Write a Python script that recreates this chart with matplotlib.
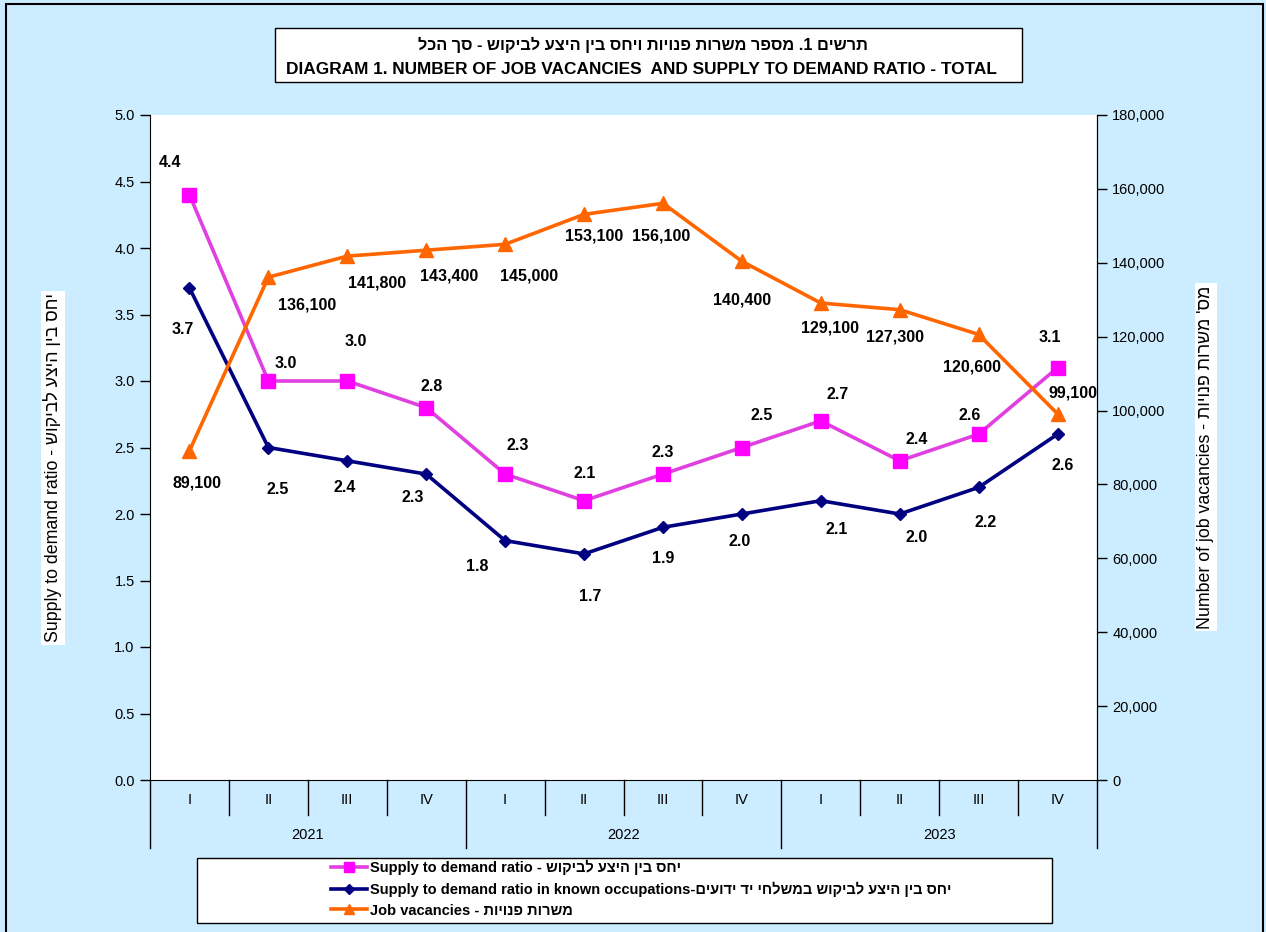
import matplotlib
matplotlib.use("Agg")
import matplotlib.pyplot as plt
from matplotlib.patches import Rectangle
from matplotlib.lines import Line2D
from matplotlib.ticker import FuncFormatter, MultipleLocator

plt.rcParams['font.family'] = ['Liberation Sans', 'DejaVu Sans']

# data
quarters = ['I', 'II', 'III', 'IV'] * 3
years = ['2021', '2022', '2023']
ratio = [4.4, 3.0, 3.0, 2.8, 2.3, 2.1, 2.3, 2.5, 2.7, 2.4, 2.6, 3.1]
ratio_known = [3.7, 2.5, 2.4, 2.3, 1.8, 1.7, 1.9, 2.0, 2.1, 2.0, 2.2, 2.6]
vacancies = [89100, 136100, 141800, 143400, 145000, 153100, 156100,
             140400, 129100, 127300, 120600, 99100]

# label offsets in pixels (dx, dy with y down)
off_ratio = [(-19, -32), (17, -18), (8, -39), (5, -21), (13, -29), (1, -27),
             (0, -22), (20, -32), (17, -26), (17, -21), (-9, -19), (-8, -30)]
off_known = [(-7, 42), (9, 42), (-3, 27), (-14, 23), (-28, 26), (6, 43),
             (0, 31), (-2, 28), (16, 29), (17, 24), (7, 35), (5, 31)]
off_vac = [(8, 32), (39, 28), (30, 27), (23, 26), (24, 32), (10, 22),
           (-2, 33), (0, 39), (9, 25), (-5, 27), (-7, 33), (15, -21)]


def rtl(s):
    # matplotlib has no bidi, so flip the Hebrew run for display
    return s[::-1]


W, H = 1266, 932
bg = '#CCECFF'
fig = plt.figure(figsize=(W / 100, H / 100), dpi=100)
fig.patch.set_facecolor(bg)

L, R, T, B = 150, 1097, 115, 780
ax = fig.add_axes([L / W, 1 - B / H, (R - L) / W, (B - T) / H])
ax.set_facecolor('white')
ax2 = ax.twinx()

x = list(range(len(ratio)))
l1, = ax.plot(x, ratio, color='#E040E0', lw=2.6, marker='s', ms=9.5,
              mfc='#FF00FF', mec='#FF00FF')
l2, = ax.plot(x, ratio_known, color='#000080', lw=2.6, marker='D', ms=6.5,
              mfc='#000080', mec='#000080')
l3, = ax2.plot(x, vacancies, color='#FF6600', lw=2.6, marker='^', ms=9.5,
               mfc='#FF6600', mec='#FF6600')

lab = dict(ha='center', va='center', fontsize=11.5, fontweight='bold',
           textcoords='offset pixels')
for i, v in enumerate(ratio):
    ax.annotate(f'{v:.1f}', (i, v), xytext=(off_ratio[i][0], -off_ratio[i][1]), **lab)
for i, v in enumerate(ratio_known):
    ax.annotate(f'{v:.1f}', (i, v), xytext=(off_known[i][0], -off_known[i][1]), **lab)
for i, v in enumerate(vacancies):
    ax2.annotate(f'{v:,}', (i, v), xytext=(off_vac[i][0], -off_vac[i][1]), **lab)

ax.set_xlim(-0.5, 11.5)
ax.set_ylim(0, 5)
ax2.set_ylim(0, 180000)
ax.yaxis.set_major_locator(MultipleLocator(0.5))
ax.yaxis.set_major_formatter(FuncFormatter(lambda v, p: f'{v:.1f}'))
ax2.yaxis.set_major_locator(MultipleLocator(20000))
ax2.yaxis.set_major_formatter(FuncFormatter(lambda v, p: f'{int(v):,}'))
ax.set_xticks([])
ax.tick_params(axis='y', direction='out', length=7, width=1, labelsize=10.5, pad=4)
ax2.tick_params(axis='y', direction='out', length=7, width=1, labelsize=10.5, pad=4)
for a in (ax, ax2):
    a.spines['top'].set_visible(False)
ax2.spines['left'].set_visible(False)
ax2.spines['bottom'].set_visible(False)
ax2.patch.set_visible(False)

# two level category axis
tr = ax.get_xaxis_transform()
ph = B - T
for i, q in enumerate(quarters):
    ax.text(i, -(800 - B) / ph, q, transform=tr, ha='center', va='center', fontsize=10.5)
for k in range(1, 12):
    if k % 4:
        ax.add_line(Line2D([k - 0.5, k - 0.5], [0, -(815 - B) / ph], transform=tr,
                           color='black', lw=1, clip_on=False))
for k in range(0, 13, 4):
    ax.add_line(Line2D([k - 0.5, k - 0.5], [0, -(848 - B) / ph], transform=tr,
                       color='black', lw=1, clip_on=False))
for j, y in enumerate(years):
    ax.text(j * 4 + 1.5, -(835 - B) / ph, y, transform=tr, ha='center',
            va='center', fontsize=10.5)

# axis titles
fig.text(53 / W, 1 - 468 / H, 'Supply to demand ratio - ' + rtl('יחס בין היצע לביקוש'),
         rotation=90, ha='center', va='center', fontsize=12.8,
         bbox=dict(boxstyle='square,pad=0.15', fc='white', ec='none'))
fig.text(1206 / W, 1 - 457 / H, 'Number of job vacancies - ' + rtl("מס' משרות פנויות"),
         rotation=90, ha='center', va='center', fontsize=12.8,
         bbox=dict(boxstyle='square,pad=0.15', fc='white', ec='none'))

# title box
fig.add_artist(Rectangle((275 / W, 1 - 82 / H), (1022 - 275) / W, 54 / H,
                         transform=fig.transFigure, fc='white', ec='black', lw=1))
fig.text(643 / W, 1 - 45 / H, rtl('תרשים 1. מספר משרות פנויות ויחס בין היצע לביקוש - סך הכל'),
         ha='center', va='center', fontsize=11.8, fontweight='bold')
fig.text(641 / W, 1 - 70 / H,
         'DIAGRAM 1. NUMBER OF JOB VACANCIES  AND SUPPLY TO DEMAND RATIO - TOTAL',
         ha='center', va='center', fontsize=12.4, fontweight='bold')

# legend box
fig.add_artist(Rectangle((197 / W, 1 - 923 / H), (1052 - 197) / W, (923 - 858) / H,
                         transform=fig.transFigure, fc='white', ec='black', lw=1))
labels = ['Supply to demand ratio - ' + rtl('יחס בין היצע לביקוש'),
          'Supply to demand ratio in known occupations-' + rtl('יחס בין היצע לביקוש במשלחי יד ידועים'),
          'Job vacancies - ' + rtl('משרות פנויות')]
fig.legend([l1, l2, l3], labels, loc='upper left',
           bbox_to_anchor=(331 / W, 1 - 860 / H), frameon=False,
           prop=dict(weight='bold', size=10.5),
           handlelength=2.5, handletextpad=0.2, labelspacing=0.45,
           borderpad=0, borderaxespad=0, markerscale=0.8)

# outer border
fig.add_artist(Rectangle((6 / W, -0.01), (1263 - 6) / W, 1.01 - 4 / H,
                         transform=fig.transFigure, fill=False, ec='black', lw=1.5))

fig.savefig('out.png', dpi=100, facecolor=bg)
